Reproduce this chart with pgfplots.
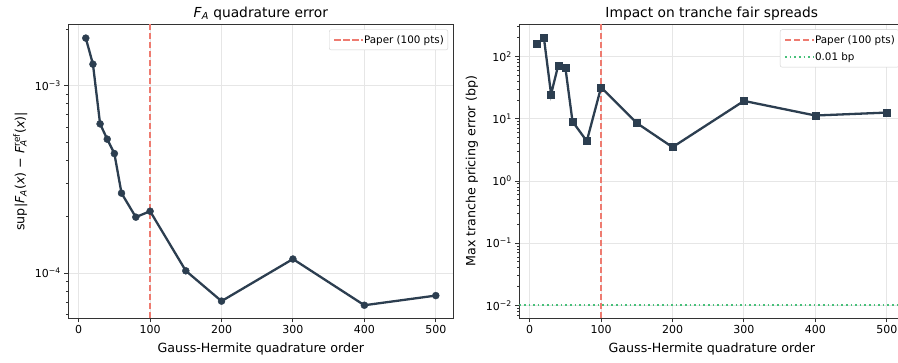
\documentclass[border=0pt]{standalone}
\usepackage{fontspec}
\setmainfont{DejaVu Sans}
\usepackage{pgfplots}
\pgfplotsset{compat=1.18}
\definecolor{dataline}{HTML}{2C3E50}
\definecolor{paper}{HTML}{EE7B70}
\definecolor{bpc}{HTML}{48C07A}
\definecolor{gridc}{HTML}{E6E6E6}
\definecolor{spine}{HTML}{333333}
\definecolor{legc}{HTML}{D0D0D0}
\pgfplotsset{
  mystyle/.style={
    scale only axis, width=385pt, height=294pt,
    xmin=-14.5, xmax=524.5,
    xtick={0,100,200,300,400,500},
    axis line style={spine, line width=0.92pt},
    every tick/.style={spine, line width=0.92pt},
    major tick length=4pt, minor tick length=2.3pt,
    tick align=outside,
    tick pos=left,
    grid=major,
    major grid style={gridc, line width=0.92pt},
    ticklabel style={font=\fontsize{11}{13}\selectfont},
    xticklabel style={/pgf/number format/assume math mode=true},
    xlabel style={font=\fontsize{12.65}{15}\selectfont, at={(axis description cs:0.5,-0.117)}, anchor=base},
    ylabel style={font=\fontsize{12.65}{15}\selectfont, at={(axis description cs:-0.1143,0.5)}, anchor=base, rotate=0},
    every axis title shift=0pt,
    title style={font=\fontsize{13.8}{16}\selectfont, at={(axis description cs:0.5,1.0224)}, anchor=base},
    legend style={font=\fontsize{10.35}{12}\selectfont, draw=legc, rounded corners=2pt,
      fill=white, inner xsep=4.1pt, inner ysep=4.1pt, row sep=5.2pt,
      nodes={inner sep=0pt, text height=9.6pt, text depth=2.44pt},
      at={(axis description cs:1,1)}, anchor=north east, xshift=-5.2pt, yshift=-5.2pt},
    legend cell align=left,
    legend image code/.code={\draw[##1] (0pt,0pt) -- (20.7pt,0pt); \path (0pt,0pt) -- (29pt,0pt);},
  }
}
\begin{document}
\begin{tikzpicture}
\begin{axis}[ymode=log, mystyle,
  at={(68.3pt,43.7pt)}, anchor=south west,
  ymin=5.75e-5, ymax=2.12e-3,
  ytick={1e-4,1e-3},
  yticklabels={10\textsuperscript{−4},10\textsuperscript{−3}},
  minor ytick={6e-5,7e-5,8e-5,9e-5,2e-4,3e-4,4e-4,5e-4,6e-4,7e-4,8e-4,9e-4,2e-3},
  title={\textit{F}\textsubscript{\textit{A}} quadrature error},
  xlabel={Gauss-Hermite quadrature order},
  ylabel={sup|\textit{F}\textsubscript{\textit{A}}(\textit{x}) − \textit{F}\rlap{\textsubscript{\textit{A}}}\textsuperscript{ref}(\textit{x})|},
]
\addplot[paper, line width=1.7pt, dash pattern=on 6.3pt off 2.7pt] coordinates {(100,5.75e-5) (100,2.12e-3)};
\addlegendentry{Paper (100 pts)}
\addplot[dataline, line width=2.3pt, mark=*, mark size=3.5pt, mark options={solid, fill=dataline, draw=dataline, line width=0.4pt}, forget plot] coordinates {
(10,1.79e-3) (20,1.30e-3) (30,6.25e-4) (40,5.18e-4) (50,4.34e-4) (60,2.67e-4)
(80,1.99e-4) (100,2.14e-4) (150,1.03e-4) (200,7.1e-5) (300,1.19e-4) (400,6.75e-5) (500,7.6e-5)};
\end{axis}
\begin{axis}[ymode=log, mystyle,
  at={(519.3pt,43.7pt)}, anchor=south west,
  ymin=6.2e-3, ymax=331,
  ytick={1e-2,1e-1,1,10,100},
  yticklabels={10\textsuperscript{−2},10\textsuperscript{−1},10\textsuperscript{0},10\textsuperscript{1},10\textsuperscript{2}},
  minor ytick={7e-3,8e-3,9e-3,2e-2,3e-2,4e-2,5e-2,6e-2,7e-2,8e-2,9e-2,0.2,0.3,0.4,0.5,0.6,0.7,0.8,0.9,2,3,4,5,6,7,8,9,20,30,40,50,60,70,80,90,200,300},
  title={Impact on tranche fair spreads},
  xlabel={Gauss-Hermite quadrature order},
  ylabel={Max tranche pricing error (bp)},
]
\addplot[paper, line width=1.7pt, dash pattern=on 6.3pt off 2.7pt] coordinates {(100,6.2e-3) (100,331)};
\addlegendentry{Paper (100 pts)}
\addplot[bpc, line width=1.8pt, dash pattern=on 1.7pt off 2.9pt] coordinates {(-14.5,0.01) (524.5,0.01)};
\addlegendentry{0.01 bp}
\addplot[dataline, line width=2.3pt, mark=square*, mark size=3.5pt, mark options={solid, fill=dataline, draw=dataline, line width=0.4pt}, forget plot] coordinates {
(10,160) (20,198) (30,24.8) (40,72.8) (50,66.5) (60,9.05)
(80,4.38) (100,32.2) (150,8.54) (200,3.5) (300,19.4) (400,11.3) (500,12.6)};
\end{axis}
\pgfresetboundingbox
\path[use as bounding box] (0,0) rectangle (898pt,362pt);
\end{tikzpicture}
\end{document}
